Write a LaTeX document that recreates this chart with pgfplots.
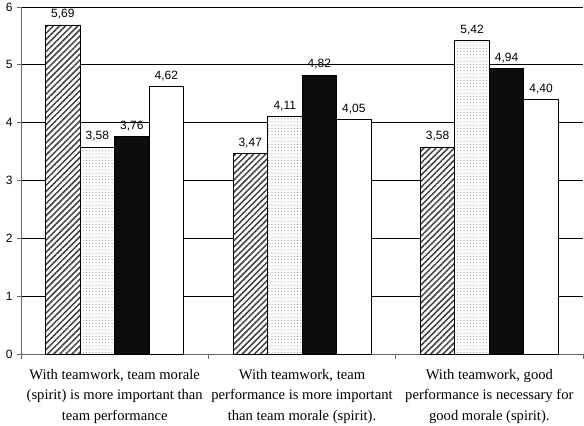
\documentclass[border=0pt]{standalone}
\usepackage{fontspec}
\setmainfont{Liberation Serif}
\newfontfamily\arial{Liberation Sans}
\usepackage{pgfplots}
\pgfplotsset{compat=1.18}
\usetikzlibrary{patterns.meta}

\pgfplotsset{
  hatched/.style={fill=white, draw=black, line width=0.8pt,
    postaction={pattern color=black!75, pattern={Lines[angle=45,distance=4.3pt,line width=1.5pt]}}},
  dotted bar/.style={fill=white, draw=black, line width=0.8pt,
    postaction={pattern color=black!55, pattern={Dots[radius=0.5pt,distance=3.2pt]}}},
  black bar/.style={fill=black!95, draw=black, line width=0.8pt},
  white bar/.style={fill=white, draw=black, line width=0.8pt},
}

\begin{document}
\begin{tikzpicture}
\begin{axis}[
  scale only axis,
  width=562pt, height=347pt,
  ybar=0pt, bar width=34.5pt,
  xmin=-0.5, xmax=2.5,
  ymin=0, ymax=6,
  ytick={0,1,2,3,4,5,6},
  xtick={0,1,2},
  xticklabels={{With teamwork, team morale\\(spirit) is more important than\\team performance},
               {With teamwork, team\\performance is more important\\than team morale (spirit).},
               {With teamwork, good\\performance is necessary for\\good morale (spirit).}},
  minor xtick={-0.5,0.5,1.5,2.5},
  major x tick style={draw=none},
  minor tick length=5pt,
  major tick length=4pt,
  tick align=outside,
  tick pos=left,
  tick style={black!60, line width=0.8pt},
  axis line style={black!60, line width=0.8pt},
  axis x line*=bottom, axis y line*=left,
  ymajorgrids,
  grid style={black, line width=0.7pt},
  xticklabel style={font=\fontsize{14.6}{20.2}\selectfont, align=center, yshift=-8pt},
  yticklabel style={font=\arial\fontsize{12}{14}\selectfont, xshift=-1pt},
  /pgf/number format/assume math mode=true,
  nodes near coords,
  every node near coord/.append style={font=\arial\fontsize{12}{14}\selectfont, yshift=2pt,
    /pgf/number format/.cd, use comma, fixed, fixed zerofill, precision=2},
  clip=false,
]
\addplot[hatched] coordinates {(0,5.69) (1,3.47) (2,3.58)};
\addplot[dotted bar] coordinates {(0,3.58) (1,4.11) (2,5.42)};
\addplot[black bar] coordinates {(0,3.76) (1,4.82) (2,4.94)};
\addplot[white bar] coordinates {(0,4.62) (1,4.05) (2,4.40)};
\coordinate (bl) at (rel axis cs:0,0);
\coordinate (tr) at (rel axis cs:1,1);
\end{axis}
\pgfresetboundingbox
\path ([xshift=-21pt,yshift=-72pt]bl) rectangle ([xshift=1pt,yshift=7pt]tr);
\end{tikzpicture}
\end{document}
